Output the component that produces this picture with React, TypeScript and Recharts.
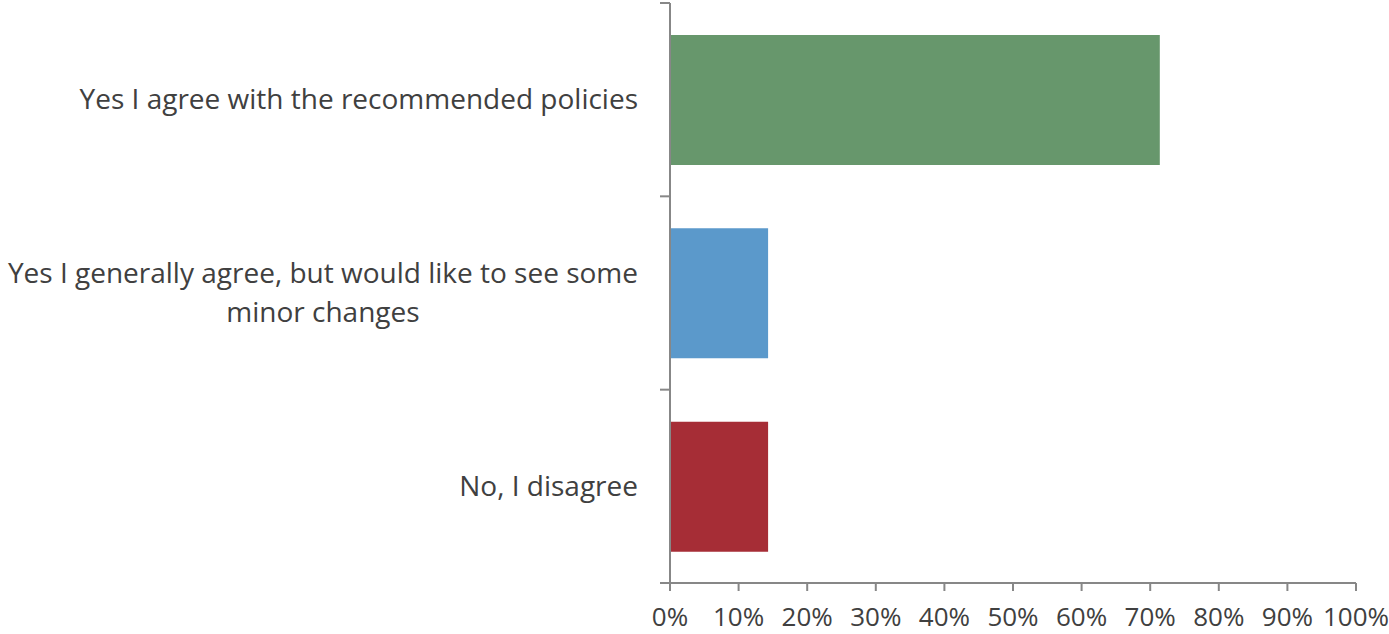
import React from "react";
import { BarChart, Bar, XAxis, YAxis, Cell } from "recharts";

const categories = [
  "Yes I agree with the recommended policies",
  "Yes I generally agree, but would like to see some\nminor changes",
  "No, I disagree",
];
const shares = [0.714, 0.143, 0.143];
const barColors = ["#67976C", "#5B99CB", "#A62D36"];
const xTicks = [0, 0.1, 0.2, 0.3, 0.4, 0.5, 0.6, 0.7, 0.8, 0.9, 1];

const FONT = "'Open Sans', sans-serif";
const LABEL_SIZE = 28;
const TICK_SIZE = 26;
const TEXT = "#404040";
const AXIS = "#878787";

const data = categories.map((name, i) => ({ name, value: shares[i], fill: barColors[i] }));

let ctx: CanvasRenderingContext2D | null = null;
function measure(s: string) {
  if (!ctx) ctx = document.createElement("canvas").getContext("2d");
  if (!ctx) return s.length * LABEL_SIZE * 0.5;
  ctx.font = `${LABEL_SIZE}px ${FONT}`;
  return ctx.measureText(s).width;
}

function CategoryTick(props: any) {
  const { x, y, payload, index, visibleTicksCount } = props;
  const lines = String(payload.value).split("\n");
  const widest = Math.max(...lines.map(measure));
  const cx = x - widest / 2;
  const lh = 39;
  const axisX = x + 22 + 10;
  const half = payload.offset || 0;
  const last = index === (visibleTicksCount ?? categories.length) - 1;
  return (
    <g>
      <line x1={axisX - 10} x2={axisX} y1={y - half} y2={y - half} stroke={AXIS} strokeWidth={2} />
      {last && (
        <line x1={axisX - 10} x2={axisX} y1={y + half} y2={y + half} stroke={AXIS} strokeWidth={2} />
      )}
      {lines.map((l, i) => (
        <text
          key={i}
          x={cx}
          y={y + (i - (lines.length - 1) / 2) * lh}
          dy="0.35em"
          textAnchor="middle"
          fill={TEXT}
          fontSize={LABEL_SIZE}
          fontFamily={FONT}
        >
          {l}
        </text>
      ))}
    </g>
  );
}

export default function App() {
  return (
    <div style={{ position: "absolute", left: 0, top: 0, background: "#fff" }}>
      <BarChart
        width={1389}
        height={634}
        data={data}
        layout="vertical"
        margin={{ top: 3, right: 33, bottom: 0, left: 0 }}
      >
        <XAxis
          type="number"
          domain={[0, 1]}
          ticks={xTicks}
          tickFormatter={(v) => `${Math.round(v * 100)}%`}
          height={51}
          tickSize={8}
          tickMargin={17}
          axisLine={{ stroke: AXIS, strokeWidth: 2 }}
          tickLine={{ stroke: AXIS, strokeWidth: 2 }}
          tick={{ fill: TEXT, fontSize: TICK_SIZE, fontFamily: FONT }}
          interval={0}
        />
        <YAxis
          type="category"
          dataKey="name"
          width={670}
          tickSize={10}
          tickMargin={22}
          axisLine={{ stroke: AXIS, strokeWidth: 2 }}
          tickLine={false}
          tick={<CategoryTick />}
          interval={0}
        />
        <Bar dataKey="value" barSize={130} isAnimationActive={false}>
          {data.map((d, i) => (
            <Cell key={i} fill={d.fill} />
          ))}
        </Bar>
      </BarChart>
    </div>
  );
}
